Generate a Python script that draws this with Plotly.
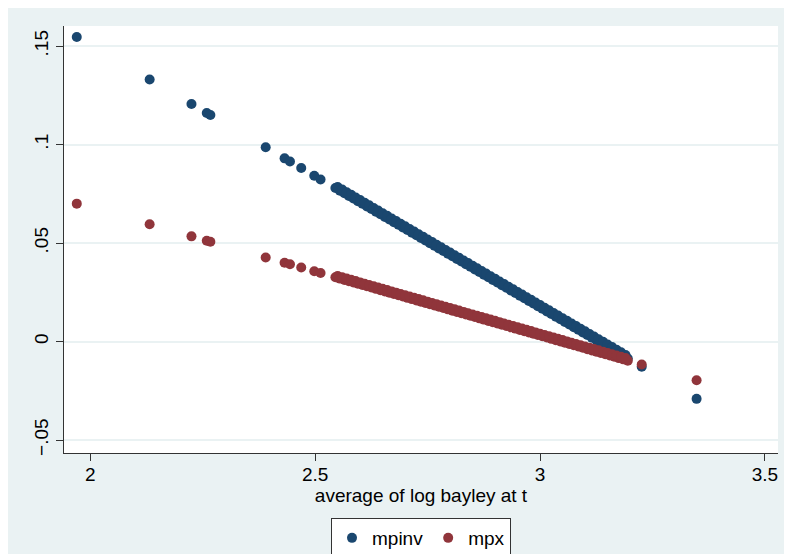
import plotly.graph_objects as go

# x: average of log bayley at t
x_vals = [1.970, 2.132, 2.225, 2.259, 2.267, 2.390, 2.432, 2.444, 2.469, 2.498, 2.512,
          2.545, 2.555, 2.565, 2.575, 2.585, 2.595, 2.605, 2.615, 2.625, 2.635,
          2.645, 2.655, 2.665, 2.675, 2.685, 2.695, 2.705, 2.715, 2.725, 2.735,
          2.745, 2.755, 2.765, 2.775, 2.785, 2.795, 2.805, 2.815, 2.825, 2.835,
          2.845, 2.855, 2.865, 2.875, 2.885, 2.895, 2.905, 2.915, 2.925, 2.935,
          2.945, 2.955, 2.965, 2.975, 2.985, 2.995, 3.005, 3.015, 3.025, 3.035,
          3.045, 3.055, 3.065, 3.075, 3.085, 3.095, 3.105, 3.115, 3.125, 3.135,
          3.145, 3.155, 3.165, 3.175, 3.185, 3.195,
          3.226, 3.348]

mpinv = [0.1546, 0.1330, 0.1206, 0.1160, 0.1150, 0.0986, 0.0930, 0.0914, 0.0881, 0.0842, 0.0823,
         0.07793, 0.07660, 0.07527, 0.07393, 0.07260, 0.07127, 0.06994, 0.06860, 0.06727, 0.06594,
         0.06461, 0.06327, 0.06194, 0.06061, 0.05928, 0.05794, 0.05661, 0.05528, 0.05395, 0.05261,
         0.05128, 0.04995, 0.04862, 0.04728, 0.04595, 0.04462, 0.04329, 0.04195, 0.04062, 0.03929,
         0.03796, 0.03662, 0.03529, 0.03396, 0.03263, 0.03129, 0.02996, 0.02863, 0.02730, 0.02596,
         0.02463, 0.02330, 0.02197, 0.02063, 0.01930, 0.01797, 0.01664, 0.01530, 0.01397, 0.01264,
         0.01131, 0.00997, 0.00864, 0.00731, 0.00598, 0.00464, 0.00331, 0.00198, 0.00065, -0.00069,
         -0.00202, -0.00335, -0.00468, -0.00602, -0.00735, -0.00868,
         -0.0128, -0.0291]

mpx = [0.0700, 0.0595, 0.0534, 0.0512, 0.0507, 0.0427, 0.0400, 0.0392, 0.0376, 0.0357, 0.0348,
       0.03260, 0.03195, 0.03130, 0.03065, 0.03000, 0.02935, 0.02869, 0.02804, 0.02739, 0.02674,
       0.02609, 0.02544, 0.02479, 0.02414, 0.02349, 0.02284, 0.02218, 0.02153, 0.02088, 0.02023,
       0.01958, 0.01893, 0.01828, 0.01763, 0.01698, 0.01633, 0.01567, 0.01502, 0.01437, 0.01372,
       0.01307, 0.01242, 0.01177, 0.01112, 0.01047, 0.00982, 0.00916, 0.00851, 0.00786, 0.00721,
       0.00656, 0.00591, 0.00526, 0.00461, 0.00396, 0.00331, 0.00265, 0.00200, 0.00135, 0.00070,
       0.00005, -0.00060, -0.00125, -0.00190, -0.00255, -0.00320, -0.00386, -0.00451, -0.00516, -0.00581,
       -0.00646, -0.00711, -0.00776, -0.00841, -0.00906, -0.00971,
       -0.0117, -0.0197]

# second group of observations in the dense band (slightly above the first group)
x_band2 = [2.550, 2.560, 2.570, 2.580, 2.590, 2.600, 2.610, 2.620, 2.630, 2.640,
           2.650, 2.660, 2.670, 2.680, 2.690, 2.700, 2.710, 2.720, 2.730, 2.740,
           2.750, 2.760, 2.770, 2.780, 2.790, 2.800, 2.810, 2.820, 2.830, 2.840,
           2.850, 2.860, 2.870, 2.880, 2.890, 2.900, 2.910, 2.920, 2.930, 2.940,
           2.950, 2.960, 2.970, 2.980, 2.990, 3.000, 3.010, 3.020, 3.030, 3.040,
           3.050, 3.060, 3.070, 3.080, 3.090, 3.100, 3.110, 3.120, 3.130, 3.140,
           3.150, 3.160, 3.170, 3.180, 3.190]

mpinv_band2 = [0.07846, 0.07713, 0.07580, 0.07446, 0.07313, 0.07180, 0.07047, 0.06913, 0.06780, 0.06647,
               0.06514, 0.06380, 0.06247, 0.06114, 0.05981, 0.05847, 0.05714, 0.05581, 0.05448, 0.05314,
               0.05181, 0.05048, 0.04915, 0.04781, 0.04648, 0.04515, 0.04382, 0.04248, 0.04115, 0.03982,
               0.03849, 0.03715, 0.03582, 0.03449, 0.03316, 0.03182, 0.03049, 0.02916, 0.02783, 0.02649,
               0.02516, 0.02383, 0.02250, 0.02116, 0.01983, 0.01850, 0.01717, 0.01583, 0.01450, 0.01317,
               0.01184, 0.01050, 0.00917, 0.00784, 0.00651, 0.00517, 0.00384, 0.00251, 0.00118, -0.00016,
               -0.00149, -0.00282, -0.00415, -0.00549, -0.00682]

mpx_band2 = [0.03327, 0.03262, 0.03197, 0.03132, 0.03067, 0.03002, 0.02936, 0.02871, 0.02806, 0.02741,
             0.02676, 0.02611, 0.02546, 0.02481, 0.02416, 0.02351, 0.02285, 0.02220, 0.02155, 0.02090,
             0.02025, 0.01960, 0.01895, 0.01830, 0.01765, 0.01700, 0.01634, 0.01569, 0.01504, 0.01439,
             0.01374, 0.01309, 0.01244, 0.01179, 0.01114, 0.01049, 0.00983, 0.00918, 0.00853, 0.00788,
             0.00723, 0.00658, 0.00593, 0.00528, 0.00463, 0.00398, 0.00332, 0.00267, 0.00202, 0.00137,
             0.00072, 0.00007, -0.00058, -0.00123, -0.00188, -0.00253, -0.00319, -0.00384, -0.00449, -0.00514,
             -0.00579, -0.00644, -0.00709, -0.00774, -0.00839]

x_ticks = [2, 2.5, 3, 3.5]
x_ticktext = ["2", "2.5", "3", "3.5"]
y_ticks = [-0.05, 0, 0.05, 0.1, 0.15]
y_ticktext = ["\u2212.05", "0", ".05", ".1", ".15"]

BLUE = "#1a476f"
RED = "#90353b"
BG = "#eaf2f3"
FONT = "Liberation Sans, Arial, Helvetica, sans-serif"

x_all = x_vals + x_band2
fig = go.Figure()
fig.add_trace(go.Scatter(x=x_all, y=mpinv + mpinv_band2, mode="markers", name="mpinv",
                         marker=dict(color=BLUE, size=10, line=dict(width=0))))
fig.add_trace(go.Scatter(x=x_all, y=mpx + mpx_band2, mode="markers", name="mpx",
                         marker=dict(color=RED, size=10, line=dict(width=0))))

W, H = 792, 554
L, R, T, B = 56, 22, 18, 109
ph = H - T - B

fig.update_layout(
    width=W, height=H,
    margin=dict(l=L, r=R, t=T, b=B, autoexpand=False),
    paper_bgcolor=BG,
    plot_bgcolor="white",
    font=dict(family=FONT, size=19, color="#000000"),
    showlegend=True,
    legend=dict(orientation="h", x=0.5, xanchor="center", y=(H - B - 510) / ph, yanchor="top",
                bgcolor="white", bordercolor="#333333", borderwidth=1,
                font=dict(size=19), itemsizing="trace"),
    xaxis=dict(range=[1.9416, 3.529], tickvals=x_ticks, ticktext=x_ticktext, automargin=False,
               showgrid=False, zeroline=False, showline=True, linecolor="#333333", linewidth=1,
               ticks="outside", ticklen=7, tickcolor="#333333", tickwidth=1,
               ticklabelstandoff=-3,
               title=dict(text="average of log bayley at t", standoff=0, font=dict(size=19))),
    yaxis=dict(range=[-0.0566, 0.1602], tickvals=y_ticks, ticktext=y_ticktext, automargin=False,
               showgrid=True, gridcolor=BG, gridwidth=1.5, zeroline=False,
               showline=True, linecolor="#333333", linewidth=1,
               ticks="outside", ticklen=7, tickcolor="#333333", tickwidth=1,
               tickangle=-90),
)

fig.write_html("out.html")
